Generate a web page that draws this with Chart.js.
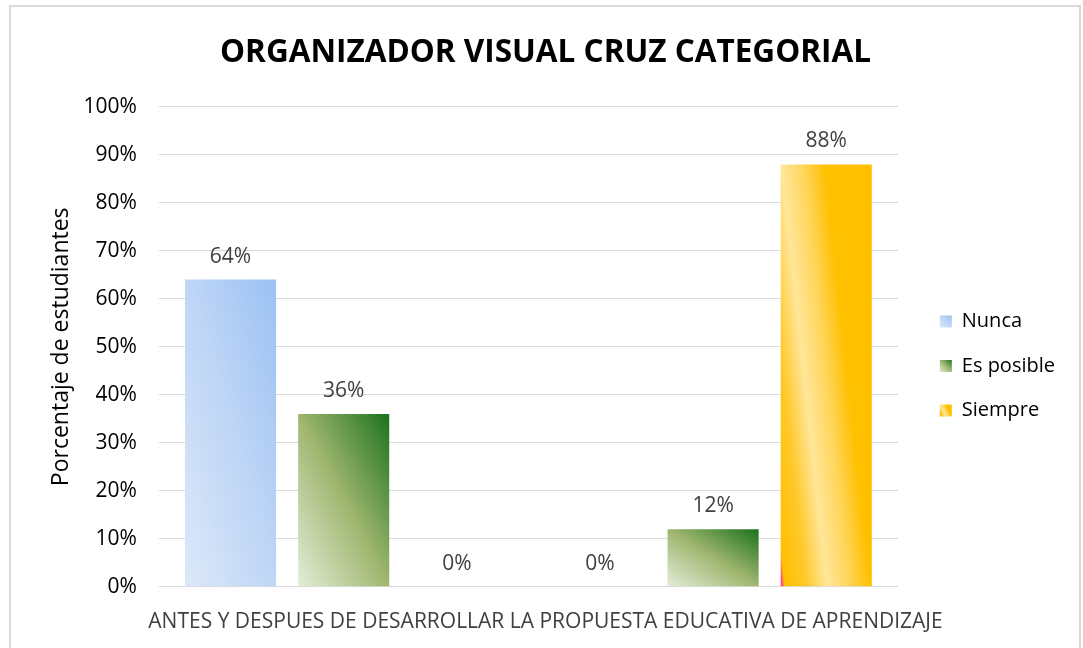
<!doctype html>
<html lang="es">
  <head>
    <meta charset="utf-8">
    <title>Organizador visual cruz categorial</title>
    <script src="https://cdn.jsdelivr.net/npm/chart.js@4.4.1/dist/chart.umd.min.js"></script>
    <style>
      html, body { margin: 0; padding: 0; background: #fff; }
      #marco { position: absolute; left: 9px; top: 5px; width: 1068px; height: 660px; border: 2px solid #d9d9d9; }
      #caja { position: absolute; left: 0; top: 0; width: 1083px; height: 648px; }
    </style>
  </head>
  <body>
    <div id="marco"></div>
    <div id="caja"><canvas id="grafica"></canvas></div>

  <script>

    // datos (porcentaje de estudiantes)
    let categorias = ['Antes', 'Después'];
    let nunca = [64, 0];
    let esPosible = [36, 12];
    let siempre = [0, 88];

    let tituloX = 'ANTES Y DESPUES DE DESARROLLAR LA PROPUESTA EDUCATIVA DE APRENDIZAJE';

    Chart.defaults.font.family = "'Open Sans', sans-serif";

    // degradado diagonal ajustado a cada barra (como en Excel)
    function degradado(ctx, x0, y0, w, h, stops) {
      let k = (2 * w * h) / (h * h + w * w);
      let g = ctx.createLinearGradient(x0, y0, x0 + h * k, y0 - w * k);
      stops.forEach(s => g.addColorStop(s[0], s[1]));
      return g;
    }

    function degradadoSiempre(ctx, x0, y0, w, h) {
      let n2 = h * h + 0.25 * w * w;
      let k = (1.5 * w * h) / n2;
      let g = ctx.createLinearGradient(x0, y0, x0 + h * k, y0 - 0.5 * w * k);
      g.addColorStop(0, '#ff2d9a');
      g.addColorStop(0.012, '#ff4f80');
      g.addColorStop(0.03, '#ffc000');
      g.addColorStop(0.18, '#ffc828');
      g.addColorStop(0.34, '#ffe699');
      g.addColorStop(0.5, '#ffd55a');
      g.addColorStop(0.66, '#ffc000');
      g.addColorStop(1, '#ffc000');
      return g;
    }

    let paradas = [
      [[0, '#dce8f9'], [0.5, '#bfd6f6'], [1, '#9bc1f3']],
      [[0, '#e4edd8'], [0.5, '#9fb66f'], [1, '#1c721e']],
      null
    ];

    function relleno(ctx, i, x0, base, w, h) {
      return paradas[i] ? degradado(ctx, x0, base, w, h, paradas[i]) : degradadoSiempre(ctx, x0, base, w, h);
    }

    const pluginDegradado = {
      id: 'degradado',
      beforeDraw(chart) {
        // cajas de la leyenda con el mismo degradado
        let lg = chart.legend;
        if (!lg || !lg.legendHitBoxes) return;
        lg.legendHitBoxes.forEach((hb, i) => {
          let top = hb.top + (hb.height - 12) / 2;
          if (lg.legendItems[i]) lg.legendItems[i].fillStyle = relleno(chart.ctx, i, hb.left, top + 12, 12, 12);
        });
      },
      beforeDatasetsDraw(chart) {
        let ctx = chart.ctx;
        chart.data.datasets.forEach((ds, i) => {
          chart.getDatasetMeta(i).data.forEach(bar => {
            let w = bar.width, h = bar.base - bar.y;
            if (h <= 0) return;
            bar.options.backgroundColor = relleno(ctx, i, bar.x - w / 2, bar.base, w, h);
          });
        });
      }
    };

    const pluginEtiquetas = {
      id: 'etiquetas',
      afterDatasetsDraw(chart) {
        let ctx = chart.ctx;
        ctx.save();
        ctx.font = "21px 'Open Sans', sans-serif";
        ctx.fillStyle = '#404040';
        ctx.textAlign = 'center';
        ctx.textBaseline = 'alphabetic';
        chart.data.datasets.forEach((ds, i) => {
          chart.getDatasetMeta(i).data.forEach((bar, j) => {
            ctx.fillText(ds.data[j] + '%', bar.x, bar.y - 17);
          });
        });
        ctx.restore();
      }
    };

    let canvas = document.getElementById('grafica').getContext('2d');

    var chart = new Chart(canvas, {
      type: 'bar',
      data: {
        labels: categorias,
        datasets: [
          { label: 'Nunca', data: nunca, backgroundColor: () => '#b7d1f6', yAxisID: 'y' },
          { label: 'Es posible', data: esPosible, backgroundColor: () => '#6f9c4c', yAxisID: 'y' },
          { label: 'Siempre', data: siempre, backgroundColor: () => '#ffc000', yAxisID: 'y' }
        ]
      },
      options: {
        responsive: true,
        maintainAspectRatio: false,
        animation: false,
        events: [],
        categoryPercentage: 0.919,
        barPercentage: 0.805,
        layout: { padding: { left: 26, right: 18, top: 0, bottom: 0 } },
        plugins: {
          title: {
            display: true,
            text: 'ORGANIZADOR VISUAL CRUZ CATEGORIAL',
            color: '#000',
            font: { size: 31.5, weight: 'bold' },
            padding: { top: 34, bottom: 35 }
          },
          subtitle: {
            display: true,
            position: 'bottom',
            text: tituloX,
            color: '#404040',
            font: { size: 21 },
            padding: { top: 23, bottom: 13 }
          },
          legend: {
            position: 'right',
            fullSize: false,
            title: { display: true, text: ' ', font: { size: 1 }, padding: { top: 0, bottom: 37 } },
            labels: { color: '#000', font: { size: 20 }, boxWidth: 12, boxHeight: 12, padding: 24.5 }
          },
          tooltip: { enabled: false }
        },
        scales: {
          x: { display: false },
          y: {
            min: 0,
            max: 100,
            ticks: { stepSize: 10, color: '#000', font: { size: 21 }, padding: 22, callback: v => v + '%' },
            grid: { color: '#d9d9d9', drawTicks: false },
            border: { display: false },
            title: { display: true, text: 'Porcentaje de estudiantes', color: '#000', font: { size: 23 }, padding: { top: 22, bottom: -14 } }
          },
          y2: {
            position: 'right',
            grid: { display: false },
            ticks: { display: false },
            border: { display: false },
            afterFit: s => { s.width = 17.5; }
          }
        }
      },
      plugins: [pluginDegradado, pluginEtiquetas]
    });

  </script>
  </body>
</html>
